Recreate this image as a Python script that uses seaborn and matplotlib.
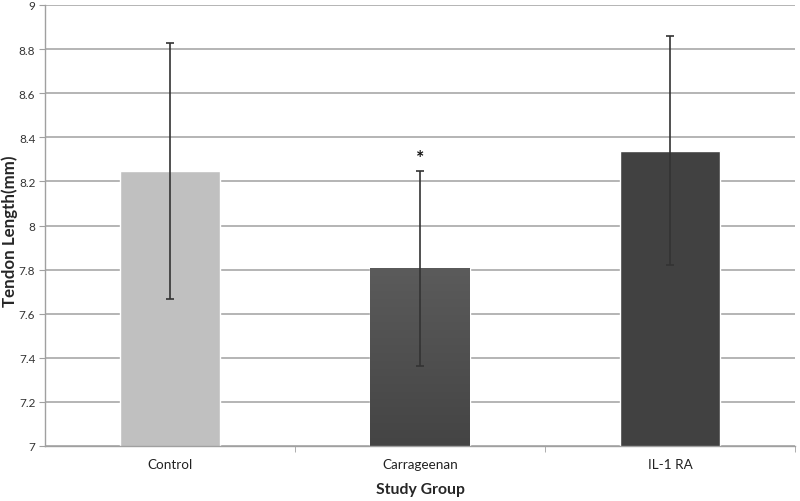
import numpy as np
import pandas as pd
import seaborn as sns
import matplotlib.pyplot as plt
from matplotlib.ticker import FixedLocator

# values
groups = ['Control', 'Carrageenan', 'IL-1 RA']
means = [8.248, 7.805, 8.340]
errors = [0.58, 0.44, 0.518]
colors = ['#c0c0c0', '#505050', '#414141']

df = pd.DataFrame({'group': groups, 'length': means})

sns.set_style('white')
plt.rcParams['font.family'] = ['Lato', 'DejaVu Sans']

fig = plt.figure(figsize=(8, 5.02), dpi=100)
ax = fig.add_axes([45 / 800, 55 / 502, 750 / 800, 441 / 502])

sns.barplot(data=df, x='group', y='length', hue='group', palette=colors,
            width=0.4, legend=False, ax=ax, zorder=2)
ax.set_ylim(7, 9)
ax.set_xlim(-0.5, 2.5)

# gradient fill for Carrageenan bar
bar = ax.patches[1]
grad = np.linspace(0, 1, 256).reshape(-1, 1)
x0 = bar.get_x()
img = ax.imshow(grad, cmap=plt.matplotlib.colors.LinearSegmentedColormap.from_list(
    'g', ['#444444', '#5b5b5b']), origin='lower', aspect='auto',
    extent=[x0, x0 + bar.get_width(), 7, means[1]], zorder=2.5)
img.set_clip_path(bar)

ax.errorbar(range(len(groups)), means, yerr=errors, fmt='none', ecolor='#333333',
            elinewidth=1.2, capsize=3, capthick=1.2, zorder=3)
ax.text(1, means[1] + errors[1] + 0.025, '*', ha='center', va='bottom',
        fontsize=14, fontweight='bold', color='#111111')

# grid & axes
ax.set_yticks(np.arange(7, 9.01, 0.2))
ax.set_yticklabels(['7', '7.2', '7.4', '7.6', '7.8', '8', '8.2', '8.4', '8.6', '8.8', '9'])
ax.yaxis.grid(True, color='#b4b4b4', linewidth=1.4, zorder=0)
ax.set_axisbelow(True)
for s in ['top', 'right']:
    ax.spines[s].set_visible(False)
for s in ['left', 'bottom']:
    ax.spines[s].set_color('#a0a0a0')
    ax.spines[s].set_linewidth(1)
ax.xaxis.set_minor_locator(FixedLocator([0.5, 1.5, 2.5]))
ax.tick_params(axis='x', which='major', length=0, labelsize=9.7, colors='#222222', pad=9)
ax.tick_params(axis='x', which='minor', length=4, color='#a0a0a0', bottom=True)
ax.tick_params(axis='y', length=4, color='#a0a0a0', labelsize=8.5, labelcolor='#333333',
               left=True, pad=3)

ax.set_xlabel('Study Group', fontsize=11.3, fontweight='bold', labelpad=8)
ax.set_ylabel('Tendon Length(mm)', fontsize=12.2, fontweight='bold')
ax.yaxis.set_label_coords(-0.036, 0.49)

fig.savefig('out.png', dpi=100)
